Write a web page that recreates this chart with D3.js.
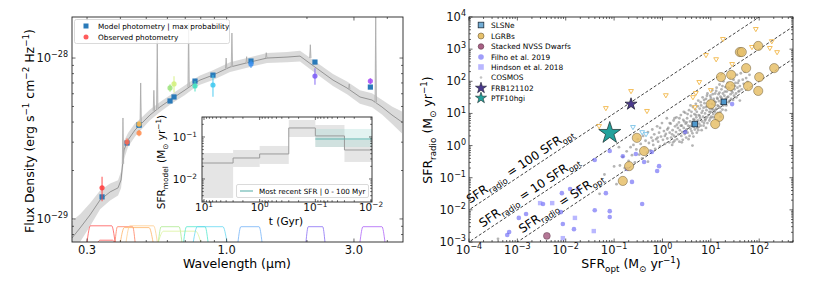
<!DOCTYPE html>
<html><head><meta charset="utf-8">
<script src="https://cdn.jsdelivr.net/npm/d3@7"></script>
<style>
body{margin:0;background:#fff;}
svg{font-family:"DejaVu Sans",sans-serif;}
</style></head><body>
<svg id="c" width="830" height="283"></svg>
<script>
// ---------------- LEFT PANEL DATA (wavelength in micron, flux in 1e-29 erg/s/cm2/Hz) ----------------
const sedWave=[0.2636,0.2825,0.3078,0.3357,0.366,0.392,0.4022,0.4128,0.4272,0.4539,0.4739,0.5164,0.563,0.6138,0.6463,0.6984,0.7614,0.795,0.889,1.030,1.224,1.417,1.684,1.884,2.143,2.503,2.825,3.16,3.505,3.819,4.164,4.54];
const sedFlux=[0.762,0.879,1.059,1.312,1.472,1.560,1.746,2.685,3.097,3.573,3.837,4.426,4.966,5.483,5.808,6.324,6.998,7.295,7.834,8.790,9.441,10.0,10.14,10.28,8.79,7.295,6.516,5.728,5.483,4.966,4.426,3.999];
const sedLo=[0.60,0.72,0.90,1.15,1.30,1.40,1.55,2.35,2.80,3.25,3.52,4.10,4.62,5.12,5.42,5.90,6.55,6.82,7.30,8.20,8.80,9.30,9.40,9.50,8.10,6.70,5.95,5.20,4.95,4.45,3.90,3.40];
const sedHi=[0.97,1.07,1.25,1.50,1.66,1.74,1.97,3.05,3.42,3.93,4.18,4.78,5.34,5.87,6.22,6.78,7.47,7.80,8.40,9.40,10.1,10.75,10.90,11.1,9.55,7.95,7.15,6.30,6.05,5.50,5.00,4.65];
const lineWave=[0.409,0.4766,0.534,0.5497,0.7206,0.996,1.047,1.189,1.408,2.059,2.88,3.62];
const lineBase=[2.2,3.84,4.7,4.8,6.6,8.6,8.8,9.3,10.0,10.0,6.4,5.3];
const linePeak=[4.24,7.0,6.3,12.9,16.5,10.0,14.3,10.2,10.8,12.1,6.9,19];
const photWave=[0.3415,0.4236,0.4699,0.4699,0.6138,0.6353,0.7614,0.889,1.234,2.143,3.456];
const modelFlux=[1.371,2.965,3.837,3.837,5.41,5.73,7.19,7.83,9.58,9.44,6.6];
const obsFlux=[1.560,3.008,3.89,3.42,6.52,6.9,6.70,6.80,9.18,7.73,7.19];
const obsErr=[0.27,0.17,0.15,0.15,0.35,0.8,0.5,1.05,0.5,0.9,0.3];
const filterLo=[0.300,0.330,0.382,0.400,0.420,0.555,0.555,0.690,0.750,1.103,1.983,3.16];
const filterHi=[0.382,0.380,0.454,0.530,0.550,0.680,0.800,0.852,1.003,1.357,2.336,3.92];
const filterPeak=[0.9,0.1,0.85,0.8,0.9,0.85,0.6,0.85,0.85,0.85,0.85,0.85];
const xTickLabels=["0.3","1.0","3.0"];
const xTickVals=[0.3,1,3];
// inset star formation history (t in Gyr, SFR in Msun/yr)
const sfhEdges=[10.86,3,1,0.3,0.1,0.03,0.0096];
const sfhMed=[0.024,0.0316,0.0394,0.164,0.106,0.049];
const sfhLo=[0.00353,0.0193,0.0228,0.1,0.0578,0.0254];
const sfhHi=[0.0416,0.049,0.061,0.254,0.193,0.0849];
const recentRange=[0.1,0.0096];
const recentSfr=[0.0896,0.0578,0.155]; // value, low, high

// ---------------- RIGHT PANEL DATA (log10 SFR_opt, log10 SFR_radio) ----------------
const slsne=[[0.67,0.67],[1.27,1.36]];
const slsneLim=[[-0.61,0.58],[-0.42,0.42],[-0.34,0.36]];
const lgrbs=[[1.60,2.91],[1.64,2.91],[1.98,3.10],[1.73,2.41],[2.31,2.41],[1.21,2.13],[1.42,2.20],[2.00,2.13],[1.40,1.85],[1.77,1.85],[1.98,1.70],[1.00,1.29],[1.17,0.89],[1.09,0.67],[-0.53,0.24],[-0.38,-0.17],[-0.69,-0.64],[-0.82,-1.10]];
const lgrbLim=[[1.25,3.32],[1.93,3.63],[0.90,2.82],[1.11,2.69],[1.85,3.07],[2.22,3.04],[2.37,2.91],[2.26,3.25],[1.44,2.54],[0.76,1.98],[1.00,1.73],[0.69,1.64],[0.63,1.51],[0.67,1.20],[-0.65,1.70],[-1.17,1.17],[-0.32,1.08],[0.07,1.57],[-1.31,0.61]];
const nvss=[[-2.39,-2.81]];
const filho=[[-1.09,-0.17],[-1.40,-0.45],[-2.08,-1.48],[-1.91,-1.35],[-1.75,-1.35],[-1.17,-1.48],[-2.47,-1.82],[-2.82,-2.13],[-2.97,-2.25],[-2.10,-2.07],[-1.40,-2.01],[-1.09,-2.04],[-2.06,-2.44],[-1.83,-2.60],[-3.17,-2.69],[-3.21,-2.78],[-0.82,-0.33],[-0.55,-0.26],[-0.22,-0.20],[-0.38,-0.51],[-0.07,-0.64],[-0.11,-0.79],[-0.73,-0.73],[-0.63,-1.13],[-0.42,-1.82],[-1.09,-2.22],[0.47,0.42],[1.44,1.29]];
const hindson=[[-2.53,-1.79],[-2.28,-1.79],[-1.81,-2.25],[-1.42,-2.66],[-2.06,-2.88]];
const frb=[[-0.65,1.29]];
const ptf=[[-1.09,0.39]];
const cosmos=[[-0.88,-0.62],[-0.82,-0.35],[-0.78,-0.70],[-0.74,-0.18],[-0.70,-0.48],[-0.66,-0.05],[-0.63,-0.30],[-0.60,0.02],[-0.57,-0.52],[-0.54,-0.12],[-0.51,0.20],[-0.48,-0.28],[-0.45,0.05],[-0.42,-0.40],[-0.40,0.30],[-0.37,-0.08],[-0.35,0.15],[-0.32,-0.22],[-0.30,0.42],[-0.28,0.08],
[-0.25,-0.15],[-0.23,0.25],[-0.21,0.50],[-0.19,0.02],[-0.17,0.35],[-0.15,-0.10],[-0.13,0.20],[-0.11,0.60],[-0.09,0.12],[-0.07,0.40],[-0.05,-0.02],[-0.03,0.28],[-0.01,0.70],[0.01,0.18],[0.03,0.45],[0.05,0.05],[0.07,0.36],[0.09,0.85],[0.10,0.22],[0.12,0.55],[0.14,0.10],[0.15,0.40],[0.17,0.68],[0.18,0.25],[0.20,0.02],[0.21,0.48],[0.23,0.78],[0.24,0.30],[0.25,0.15],[0.26,0.60],
[0.28,0.42],[0.29,0.88],[0.30,0.20],[0.32,0.55],[0.33,0.35],[0.34,0.72],[0.35,0.12],[0.36,0.48],[0.38,0.95],[0.39,0.30],[0.40,0.62],[0.41,0.42],[0.42,0.18],[0.43,0.80],[0.44,0.55],[0.46,0.36],[0.47,1.02],[0.48,0.68],[0.49,0.25],[0.50,0.50],[0.51,0.85],[0.52,0.40],[0.53,0.62],[0.55,1.10],[0.56,0.30],[0.57,0.75],[0.58,0.52],[0.59,0.92],[0.60,0.45],[0.61,0.65],[0.62,0.38],[0.63,1.20],[0.64,0.82],[0.65,0.58],[0.66,0.98],[0.67,0.50],[0.68,0.72],[0.69,1.30],[0.70,0.62],[0.70,0.88],
[0.71,1.05],[0.72,0.55],[0.73,0.78],[0.74,1.40],[0.75,0.95],[0.76,0.68],[0.77,1.15],[0.78,0.85],[0.79,0.62],[0.80,1.25],[0.81,1.02],[0.82,0.75],[0.83,1.50],[0.84,0.90],[0.85,1.18],[0.86,0.70],[0.87,1.32],[0.88,1.00],[0.89,0.82],[0.90,1.45],[0.91,1.10],[0.92,0.88],[0.93,1.62],[0.94,1.22],[0.95,0.95],[0.96,1.38],[0.97,0.78],[0.98,1.15],[0.99,1.55],[1.00,1.05],[1.01,0.90],[1.02,1.30],[1.03,1.72],[1.04,1.12],[1.05,0.98],[1.06,1.45],[1.07,1.25],[1.08,1.05],[1.09,1.62],[1.10,1.35],
[1.11,1.15],[1.12,1.80],[1.13,1.48],[1.14,1.25],[1.15,1.02],[1.16,1.60],[1.17,1.38],[1.18,1.90],[1.19,1.18],[1.20,1.52],[1.21,1.30],[1.22,1.75],[1.23,1.42],[1.24,1.12],[1.25,1.62],[1.26,2.00],[1.27,1.35],[1.28,1.55],[1.30,1.82],[1.31,1.45],[1.32,1.25],[1.33,1.68],[1.35,1.95],[1.36,1.52],[1.37,1.35],[1.38,1.78],[1.40,2.10],[1.41,1.60],[1.42,1.45],[1.44,1.88],[1.45,1.65],[1.47,2.05],[1.48,1.55],[1.49,1.75],
[1.51,1.95],[1.52,1.62],[1.54,2.20],[1.55,1.80],[1.57,1.68],[1.58,2.02],[1.60,1.85],[1.62,2.25],[1.64,1.75],[1.66,2.05],[1.68,1.92],[1.70,2.30],[1.73,2.10],[1.76,1.98],[1.80,2.20],
[0.62,0.00],[-0.30,-0.50],[0.90,0.55],[1.60,1.40],[1.20,0.90],[-3.40,-2.90],
[0.35,0.85],[0.40,0.10],[0.45,0.75],[0.48,0.45],[0.52,0.98],[0.54,0.20],[0.57,0.60],[0.60,1.05],[0.62,0.70],[0.64,0.28],[0.66,0.80],[0.68,1.12],[0.71,0.40],[0.73,1.22],[0.75,0.58],[0.77,0.92],[0.79,1.35],[0.81,0.48],[0.83,1.08],[0.85,0.62],[0.86,1.42],[0.88,0.78],[0.90,1.20],[0.92,1.55],[0.93,0.70],[0.95,1.30],[0.97,1.05],[0.99,0.85],[1.00,1.48],[1.02,1.15],[1.04,1.60],[1.05,0.88],[1.07,1.38],[1.09,1.10],[1.11,1.70],[1.12,0.98],[1.14,1.45],[1.16,1.22],[1.18,1.65],[1.20,1.05],[1.22,1.48],[1.24,1.85],[1.26,1.25],[1.29,1.68],[1.31,1.10],[1.34,1.50],[1.36,1.80],[1.39,1.40],[1.43,1.70],[1.46,1.42],[1.50,1.85],[1.53,1.50],[1.56,1.95],[1.59,1.70],
[0.15,0.70],[0.20,0.35],[0.25,0.85],[0.10,0.50],[0.05,0.30],[-0.05,0.55],[-0.10,0.25],[-0.20,0.15],[0.30,0.65],[0.22,0.10],[0.38,0.62],[0.44,1.05],[0.50,0.72],[0.58,1.25],[0.69,0.95],[0.74,0.48],
[-1.20,-0.90],[-1.00,-0.65],[-0.95,-1.20],[-1.30,-1.50],[-0.90,-0.05]];
const ratioLines=[1,10,100];
const ratioLabels=["","10 ","100 "];
const seriesNames=["SLSNe","LGRBs","Stacked NVSS Dwarfs","Filho et al. 2019","Hindson et al. 2018","COSMOS","FRB121102","PTF10hgi"];

// ---------------- helpers ----------------
const svg=d3.select("#c");
const defs=svg.append("defs");
function clip(id,b){defs.append("clipPath").attr("id",id).append("rect").attr("x",b.x0).attr("y",b.y0).attr("width",b.x1-b.x0).attr("height",b.y1-b.y0);}
function logTickVals(lo,hi){const out=[];const e0=Math.floor(Math.log10(lo))-1,e1=Math.ceil(Math.log10(hi))+1;
 for(let e=e0;e<=e1;e++)for(let m=1;m<10;m++){const v=m*Math.pow(10,e);if(v>=lo*0.9999&&v<=hi*1.0001)out.push({v,major:m===1});}return out;}
function frameTicks(g,b,xs,ys,xt,yt,maj,mn){
 const t=g.append("g").attr("stroke","#000").attr("stroke-width",0.6);
 xt.forEach(d=>{const x=xs(d.v),l=d.major?maj:mn;
  t.append("line").attr("x1",x).attr("x2",x).attr("y1",b.y1).attr("y2",b.y1-l);
  t.append("line").attr("x1",x).attr("x2",x).attr("y1",b.y0).attr("y2",b.y0+l);});
 yt.forEach(d=>{const y=ys(d.v),l=d.major?maj:mn;
  t.append("line").attr("y1",y).attr("y2",y).attr("x1",b.x0).attr("x2",b.x0+l);
  t.append("line").attr("y1",y).attr("y2",y).attr("x1",b.x1).attr("x2",b.x1-l);});
 g.append("rect").attr("x",b.x0).attr("y",b.y0).attr("width",b.x1-b.x0).attr("height",b.y1-b.y0).attr("fill","none").attr("stroke","#222").attr("stroke-width",0.9);
}
function rich(t,parts,fs){let cur=0;parts.forEach(([s,m])=>{const tg=m==="sup"?-0.42*fs:m==="sub"?0.28*fs:0;
 t.append("tspan").attr("dy",tg-cur).attr("font-size",m==="n"?fs:fs*0.7).text(s);cur=tg;});}
function powLabel(g,x,y,exp,anchor,fs){const t=g.append("text").attr("x",x).attr("y",y).attr("text-anchor",anchor).attr("font-size",fs).attr("fill","#111");
 rich(t,[["10","n"],[exp,"sup"]],fs);return t;}
const M="\u2212";
const TF=11.5;

// ================= LEFT PANEL =================
const L={x0:72,x1:403,y0:17,y1:242};
clip("clipL",L);
const xL=d3.scaleLog().domain([0.2635,4.58]).range([L.x0,L.x1]);
const yL=d3.scaleLog().domain([0.719,17.99]).range([L.y1,L.y0]);
const gL=svg.append("g");
const pL=gL.append("g").attr("clip-path","url(#clipL)");
const idx=d3.range(sedWave.length);
pL.append("path").datum(idx).attr("d",d3.area().x(i=>xL(sedWave[i])).y0(i=>yL(sedLo[i])).y1(i=>yL(sedHi[i])))
 .attr("fill","#d4d4d4").attr("opacity",0.85);
pL.append("path").datum(idx).attr("d",d3.line().x(i=>xL(sedWave[i])).y(i=>yL(sedFlux[i])))
 .attr("fill","none").attr("stroke","#8c8c8c").attr("stroke-width",0.9);
lineWave.forEach((w,i)=>{
 pL.append("path").attr("d",d3.line()([[xL(w*0.994),yL(lineBase[i])],[xL(w),yL(linePeak[i])],[xL(w*1.006),yL(lineBase[i])]]))
  .attr("fill","#d8d8d8").attr("stroke","#a0a0a0").attr("stroke-width",0.7);
});
// filter curves
const filterColor=["#ff4d4d","#ff4d4d","#ff7a5a","#ffb060","#ffcc8a","#a8e88a","#d9f29a","#4de6cc","#5fd6f2","#6fb0f7","#8468f5","#aa5cf7"];
const tL=d3.scaleLinear().domain([0,1]).range([L.y1,L.y1-18]);
filterLo.forEach((lo,i)=>{const hi=filterHi[i];const a=Math.log10(lo),b=Math.log10(hi),r=(b-a)*0.12;
 const pts=[[lo,0],[Math.pow(10,a+r),filterPeak[i]],[Math.pow(10,b-r),filterPeak[i]],[hi,0]];
 pL.append("path").attr("d",d3.line().x(d=>xL(d[0])).y(d=>tL(d[1])).curve(d3.curveMonotoneX)(pts))
  .attr("fill","none").attr("stroke",filterColor[i]).attr("stroke-width",0.9).attr("opacity",0.85);
});
// model photometry
const obsColor=["#ff3b3b","#ff6a50","#ffb84d","#ff8a4a","#9be37a","#d2f07a","#3ee0c0","#3cc8f0","#3a8ff0","#7a5cf5","#a64af5"];
photWave.forEach((w,i)=>{pL.append("rect").attr("x",xL(w)-2.6).attr("y",yL(modelFlux[i])-2.6).attr("width",5.2).attr("height",5.2).attr("fill","#2a7ab9");});
photWave.forEach((w,i)=>{
 pL.append("line").attr("x1",xL(w)).attr("x2",xL(w)).attr("y1",yL(obsFlux[i]-obsErr[i])).attr("y2",yL(obsFlux[i]+obsErr[i])).attr("stroke",obsColor[i]).attr("stroke-width",1.2).attr("opacity",0.75);
 pL.append("circle").attr("cx",xL(w)).attr("cy",yL(obsFlux[i])).attr("r",2.6).attr("fill",obsColor[i]).attr("opacity",0.85);
});
// ticks
const xLt=[0.3,0.4,0.5,0.6,0.7,0.8,0.9,1,2,3,4].map(v=>({v,major:xTickVals.includes(v)}));
frameTicks(gL,L,xL,yL,xLt,logTickVals(0.719,17.99),3.5,2);
xTickVals.forEach((v,i)=>gL.append("text").attr("x",xL(v)).attr("y",254).attr("text-anchor","middle").attr("font-size",TF).attr("fill","#111").text(xTickLabels[i]));
powLabel(gL,68,yL(1)+4,M+"29","end",TF);
powLabel(gL,68,yL(10)+4,M+"28","end",TF);
gL.append("text").attr("x",237).attr("y",268).attr("text-anchor","middle").attr("font-size",12.5).text("Wavelength (\u03bcm)");
{const t=gL.append("text").attr("transform","translate(34,131) rotate(-90)").attr("text-anchor","middle").attr("font-size",12.5);
 rich(t,[["Flux Density (erg s","n"],[M+"1","sup"],[" cm","n"],[M+"2","sup"],[" Hz","n"],[M+"1","sup"],[")","n"]],12.5);}
// legend
const lg=gL.append("g");
lg.append("rect").attr("x",74.5).attr("y",19.5).attr("width",155).attr("height",24).attr("rx",2).attr("fill","#fff").attr("fill-opacity",0.85).attr("stroke","#d0d0d0").attr("stroke-width",0.8);
lg.append("rect").attr("x",83.5).attr("y",23.5).attr("width",5).attr("height",5).attr("fill","#2a7ab9");
lg.append("circle").attr("cx",86).attr("cy",37).attr("r",2.5).attr("fill","#ff4040").attr("opacity",0.85);
lg.append("text").attr("x",98).attr("y",28.5).attr("font-size",7.3).text("Model photometry | max probability");
lg.append("text").attr("x",98).attr("y",39.5).attr("font-size",7.3).text("Observed photometry");

// ---- inset ----
const I={x0:202,x1:372,y0:117,y1:202};
clip("clipI",I);
const xI=d3.scaleLog().domain([10.86,0.0096]).range([I.x0,I.x1]);
const yI=d3.scaleLog().domain([0.00283,0.299]).range([I.y1,I.y0]);
const gI=svg.append("g");
gI.append("rect").attr("x",I.x0).attr("y",I.y0).attr("width",I.x1-I.x0).attr("height",I.y1-I.y0).attr("fill","#fff");
const pI=gI.append("g").attr("clip-path","url(#clipI)");
sfhMed.forEach((m,i)=>{const xa=xI(sfhEdges[i]),xb=xI(sfhEdges[i+1]);
 pI.append("rect").attr("x",xa).attr("width",xb-xa).attr("y",yI(sfhHi[i])).attr("height",yI(sfhLo[i])-yI(sfhHi[i])).attr("fill","#bdbdbd").attr("opacity",0.4);});
{const xa=xI(recentRange[0]),xb=xI(recentRange[1]);
 pI.append("rect").attr("x",xa).attr("width",xb-xa).attr("y",yI(recentSfr[2])).attr("height",yI(recentSfr[1])-yI(recentSfr[2])).attr("fill","#9ed6d1").attr("opacity",0.3);}
const stepPts=[];sfhMed.forEach((m,i)=>{stepPts.push([sfhEdges[i],m]);stepPts.push([sfhEdges[i+1],m]);});
pI.append("path").attr("d",d3.line().x(d=>xI(d[0])).y(d=>yI(d[1]))(stepPts)).attr("fill","none").attr("stroke","#9a9a9a").attr("stroke-width",1);
pI.append("line").attr("x1",xI(recentRange[0])).attr("x2",xI(recentRange[1])).attr("y1",yI(recentSfr[0])).attr("y2",yI(recentSfr[0])).attr("stroke","#5fb3ad").attr("stroke-width",1.1);
frameTicks(gI,I,xI,yI,logTickVals(0.0096,10.86),logTickVals(0.00283,0.299),3,1.8);
[[10,"1"],[1,"0"],[0.1,M+"1"],[0.01,M+"2"]].forEach(([v,e])=>powLabel(gI,xI(v),211,e,"middle",10.5));
[[0.1,M+"1"],[0.01,M+"2"]].forEach(([v,e])=>powLabel(gI,197,yI(v)+4,e,"end",10.5));
gI.append("text").attr("x",286).attr("y",225).attr("text-anchor","middle").attr("font-size",10.5).text("t (Gyr)");
{const t=gI.append("text").attr("transform","translate(165,162) rotate(-90)").attr("text-anchor","middle").attr("font-size",10.5);
 rich(t,[["SFR","n"],["model","sub"],[" (M","n"],["\u2299","sub"],[" yr","n"],[M+"1","sup"],[")","n"]],10.5);}
gI.append("rect").attr("x",236.5).attr("y",184.5).attr("width",132).attr("height",13).attr("rx",1.5).attr("fill","#fff").attr("stroke","#d0d0d0").attr("stroke-width",0.8);
gI.append("line").attr("x1",240).attr("x2",253).attr("y1",191).attr("y2",191).attr("stroke","#5fb3ad").attr("stroke-width",1.1);
gI.append("text").attr("x",259).attr("y",193.6).attr("font-size",7.2).text("Most recent SFR | 0 - 100 Myr");

// ================= RIGHT PANEL =================
const R={x0:469,x1:793,y0:17,y1:242};
clip("clipR",R);
const xR=d3.scaleLog().domain([1e-4,500]).range([R.x0,R.x1]);
const yR=d3.scaleLog().domain([1e-3,1e4]).range([R.y1,R.y0]);
const gR=svg.append("g");
const pR=gR.append("g").attr("clip-path","url(#clipR)");
const P=d=>[xR(Math.pow(10,d[0])),yR(Math.pow(10,d[1]))];
ratioLines.forEach(r=>{pR.append("line").attr("x1",xR(1e-5)).attr("y1",yR(r*1e-5)).attr("x2",xR(1e3)).attr("y2",yR(r*1e3))
 .attr("stroke","#111").attr("stroke-width",0.8).attr("stroke-dasharray","3,2");});
const ang=-Math.atan2(yR(1)-yR(10),xR(10)-xR(1))*180/Math.PI;
const labStart=[-2.85,-3.67,-3.93];
ratioLines.forEach((r,i)=>{const x=xR(Math.pow(10,labStart[i])),y=yR(r*Math.pow(10,labStart[i]));
 const t=gR.append("text").attr("transform",`translate(${x},${y}) rotate(${ang})`).attr("y",-4.5).attr("font-size",12);
 rich(t,[["SFR","n"],["radio","sub"],[" = "+ratioLabels[i]+"SFR","n"],["opt","sub"]],12);});
const sym=(type,size)=>d3.symbol().type(type).size(size)();
const tri=sym(d3.symbolTriangle,10);
cosmos.forEach(d=>{const [x,y]=P(d);pR.append("circle").attr("cx",x).attr("cy",y).attr("r",1.4).attr("fill","#7d7d7d").attr("opacity",0.58);});
filho.forEach(d=>{const [x,y]=P(d);pR.append("circle").attr("cx",x).attr("cy",y).attr("r",2.3).attr("fill","#5f5cf5").attr("opacity",0.6);});
hindson.forEach(d=>{const [x,y]=P(d);pR.append("rect").attr("x",x-2.2).attr("y",y-2.2).attr("width",4.4).attr("height",4.4).attr("fill","#7f7cff").attr("opacity",0.55);});
lgrbLim.forEach(d=>{const [x,y]=P(d);pR.append("path").attr("d",tri).attr("transform",`translate(${x},${y}) rotate(180)`).attr("fill","none").attr("stroke","#f2b84b").attr("stroke-width",0.9);});
slsneLim.forEach(d=>{const [x,y]=P(d);pR.append("path").attr("d",tri).attr("transform",`translate(${x},${y}) rotate(180)`).attr("fill","none").attr("stroke","#7cc3e6").attr("stroke-width",0.9);});
lgrbs.forEach(d=>{const [x,y]=P(d);pR.append("circle").attr("cx",x).attr("cy",y).attr("r",4.6).attr("fill","#e6c06a").attr("fill-opacity",0.85).attr("stroke","#6b5a3a").attr("stroke-opacity",0.7).attr("stroke-width",0.7);});
slsne.forEach(d=>{const [x,y]=P(d);pR.append("rect").attr("x",x-2.8).attr("y",y-2.8).attr("width",5.6).attr("height",5.6).attr("fill","#4f98cc").attr("stroke","#1f2f3f").attr("stroke-width",0.8);});
nvss.forEach(d=>{const [x,y]=P(d);pR.append("circle").attr("cx",x).attr("cy",y).attr("r",3.4).attr("fill","#a86084").attr("opacity",0.85).attr("stroke","#5a3346").attr("stroke-width",0.6);});
frb.forEach(d=>{const [x,y]=P(d);pR.append("path").attr("d",sym(d3.symbolStar,45)).attr("transform",`translate(${x},${y})`).attr("fill","#4b3a8e").attr("stroke","#1a1a2a").attr("stroke-width",0.7);});
ptf.forEach(d=>{const [x,y]=P(d);pR.append("path").attr("d",sym(d3.symbolStar,150)).attr("transform",`translate(${x},${y})`).attr("fill","#23a29c").attr("stroke","#1a2a2a").attr("stroke-width",0.7);});
frameTicks(gR,R,xR,yR,logTickVals(1e-4,500),logTickVals(1e-3,1e4),3.5,2);
const xExp=[M+"4",M+"3",M+"2",M+"1","0","1","2"];
xExp.forEach((e,i)=>powLabel(gR,xR(Math.pow(10,i-4)),254,e,"middle",TF));
const yExp=[M+"3",M+"2",M+"1","0","1","2","3","4"];
yExp.forEach((e,i)=>powLabel(gR,466,yR(Math.pow(10,i-3))+4,e,"end",TF));
{const t=gR.append("text").attr("x",631).attr("y",268).attr("text-anchor","middle").attr("font-size",12.5);
 rich(t,[["SFR","n"],["opt","sub"],[" (M","n"],["\u2299","sub"],[" yr","n"],[M+"1","sup"],[")","n"]],12.5);}
{const t=gR.append("text").attr("transform","translate(432,130) rotate(-90)").attr("text-anchor","middle").attr("font-size",12.5);
 rich(t,[["SFR","n"],["radio","sub"],[" (M","n"],["\u2299","sub"],[" yr","n"],[M+"1","sup"],[")","n"]],12.5);}
// legend
const legY=[25,36,46.5,57,67,77.5,88,98];
const lgR=gR.append("g");
seriesNames.forEach((n,i)=>{const y=legY[i],x=481;
 if(i===0)lgR.append("rect").attr("x",x-2.8).attr("y",y-2.8).attr("width",5.6).attr("height",5.6).attr("fill","#4f98cc").attr("fill-opacity",0.8).attr("stroke","#1f2f3f").attr("stroke-width",0.8);
 if(i===1)lgR.append("circle").attr("cx",x).attr("cy",y).attr("r",3).attr("fill","#e6c06a").attr("stroke","#6b5a3a").attr("stroke-width",0.6);
 if(i===2)lgR.append("circle").attr("cx",x).attr("cy",y).attr("r",2.8).attr("fill","#a86084").attr("stroke","#5a3346").attr("stroke-width",0.6);
 if(i===3)lgR.append("circle").attr("cx",x).attr("cy",y).attr("r",2.8).attr("fill","#5f5cf5").attr("opacity",0.6);
 if(i===4)lgR.append("rect").attr("x",x-2.8).attr("y",y-2.8).attr("width",5.6).attr("height",5.6).attr("fill","#7f7cff").attr("opacity",0.55);
 if(i===5)lgR.append("circle").attr("cx",x).attr("cy",y).attr("r",1.3).attr("fill","#8a8a8a").attr("opacity",0.5);
 if(i===6)lgR.append("path").attr("d",sym(d3.symbolStar,38)).attr("transform",`translate(${x},${y})`).attr("fill","#4b3a8e").attr("stroke","#1a1a2a").attr("stroke-width",0.6);
 if(i===7)lgR.append("path").attr("d",sym(d3.symbolStar,38)).attr("transform",`translate(${x},${y})`).attr("fill","#23a29c").attr("stroke","#1a2a2a").attr("stroke-width",0.6);
 lgR.append("text").attr("x",491).attr("y",y+2.6).attr("font-size",7.4).text(n);
});
</script></body></html>
